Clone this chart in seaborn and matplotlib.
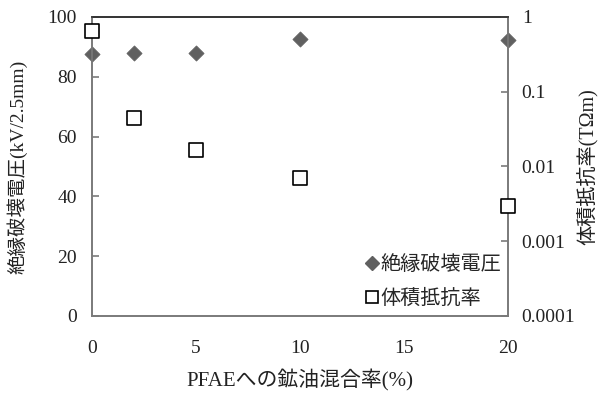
import matplotlib
matplotlib.use("Agg")
import matplotlib.pyplot as plt
import seaborn as sns
import pandas as pd
from matplotlib.lines import Line2D

sns.set_theme(style="white")
plt.rcParams['font.family'] = ['Liberation Serif', 'Noto Sans CJK JP', 'DejaVu Sans']

mix_rate = [0, 2, 5, 10, 20]
breakdown_voltage = [87.5, 87.8, 87.8, 92.6, 92.2]
resistivity = [0.64, 0.045, 0.0168, 0.0071, 0.0030]

x_label = "PFAEへの鉱油混合率(%)"
y_left_label = "絶縁破壊電圧(kV/2.5mm)"
y_right_label = "体積抵抗率(TΩm)"
legend_labels = ["絶縁破壊電圧", "体積抵抗率"]

df = pd.DataFrame({"x": mix_rate, "bv": breakdown_voltage, "rho": resistivity})

fig = plt.figure(figsize=(6.01, 3.94), dpi=100)
ax = fig.add_axes([0.153, 0.198, 0.692, 0.759])
ax2 = ax.twinx()

grey = "#7a7a7a"
sns.scatterplot(data=df, x="x", y="bv", ax=ax, marker="D", s=60,
                color="#606060", edgecolor="#606060", linewidth=0.5,
                zorder=5, clip_on=False)
sns.scatterplot(data=df, x="x", y="rho", ax=ax2, marker="s", s=95,
                facecolor="white", edgecolor="black", linewidth=1.2,
                zorder=5, clip_on=False)

ax.set_xlim(0, 20)
ax.set_ylim(0, 100)
ax.set_xticks([0, 5, 10, 15, 20])
ax.set_yticks([0, 20, 40, 60, 80, 100])
ax2.set_yscale("log")
ax2.set_ylim(0.0001, 1)
ax2.set_yticks([0.0001, 0.001, 0.01, 0.1, 1])
ax2.set_yticklabels(["0.0001", "0.001", "0.01", "0.1", "1"])
ax2.minorticks_off()

for a in (ax, ax2):
    for side in ("left", "right", "bottom"):
        a.spines[side].set_color(grey)
        a.spines[side].set_linewidth(1.2)
    a.spines["top"].set_color("#333333")
    a.spines["top"].set_linewidth(1.2)
    a.tick_params(direction="in", length=5, width=1.2, color=grey,
                  labelsize=14, labelcolor="#222222")

ax.tick_params(axis="y", pad=11)
ax2.tick_params(axis="y", pad=10)
ax.tick_params(axis="x", pad=17.5)
ax.set_xlabel(x_label, fontsize=15, color="#222222", labelpad=9)
ax.set_ylabel(y_left_label, fontsize=14, color="#222222", labelpad=14)
ax2.set_ylabel(y_right_label, fontsize=14.5, color="#222222", labelpad=0.5)

handles = [
    Line2D([], [], marker="D", linestyle="none", markersize=7,
           markerfacecolor="#606060", markeredgecolor="#606060"),
    Line2D([], [], marker="s", linestyle="none", markersize=8.5,
           markerfacecolor="white", markeredgecolor="black", markeredgewidth=1.2),
]
ax.legend(handles, legend_labels, loc="lower right", frameon=False,
          fontsize=14.5, handlelength=0.6, handletextpad=0.1,
          labelspacing=0.75, bbox_to_anchor=(1.0, 0.0),
          borderaxespad=0.0, borderpad=0.35)

fig.savefig("out.png", dpi=100)
